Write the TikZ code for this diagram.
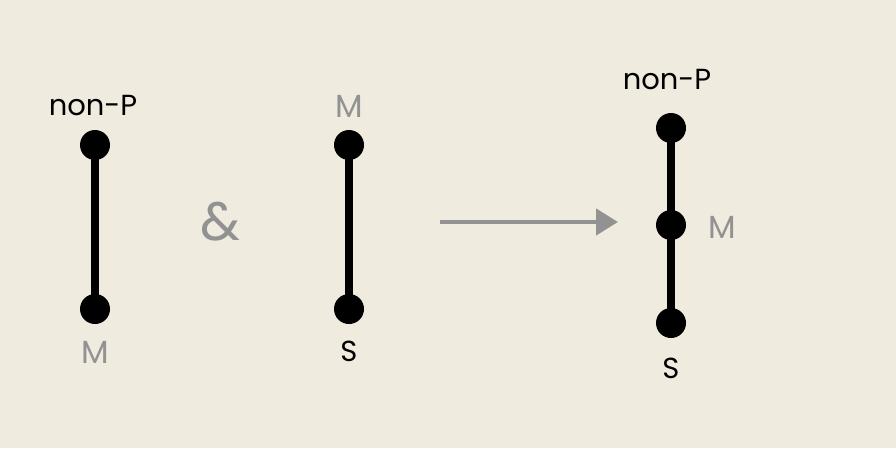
\documentclass[tikz,border=0pt]{standalone}
\usepackage{fontspec}
\setmainfont{Poppins}
\usetikzlibrary{arrows.meta}
\definecolor{bg}{HTML}{EFEBDF}
\definecolor{lgray}{HTML}{929292}
\tikzset{
  dot/.style={circle,fill=black,inner sep=0pt,minimum size=30pt},
  bar/.style={line width=7.5pt,black},
  lbl/.style={font=\fontsize{29}{33}\selectfont,text=black,inner sep=0pt},
  glbl/.style={font=\fontsize{32}{36}\selectfont,text=lgray,inner sep=0pt},
  arr/.style={line width=4.5pt,lgray,-{Triangle[length=22pt,width=26pt]}}
}
\begin{document}
\begin{tikzpicture}[x=1pt,y=-1pt]
\fill[bg] (0,0) rectangle (896,448);
\useasboundingbox (0,0) rectangle (896,448);
% left
\node[dot] (a1) at (95,145) {};
\node[dot] (a2) at (95,309) {};
\draw[bar] (a1.center) -- (a2.center);
\node[lbl] (a1l) at (93,106) {non-P};
\node[glbl] (a2l) at (95,352) {M};
% ampersand
\node[glbl,font=\fontsize{54}{58}\selectfont] (amp) at (220,222) {\&};
% middle
\node[dot] (b1) at (349,145) {};
\node[dot] (b2) at (349,309) {};
\draw[bar] (b1.center) -- (b2.center);
\node[glbl] (b1l) at (349,106) {M};
\node[lbl] (b2l) at (349,351) {S};
% arrow
\coordinate (s) at (440,222);
\coordinate (e) at (618,222);
\draw[arr] (s) -- (e);
% right
\node[dot] (c1) at (671,128) {};
\node[dot] (c2) at (671,225) {};
\node[dot] (c3) at (671,323) {};
\draw[bar] (c1.center) -- (c3.center);
\node[lbl] (c1l) at (667,80) {non-P};
\node[glbl] (c2l) at (722,227) {M};
\node[lbl] (c3l) at (671,368) {S};
\end{tikzpicture}
\end{document}
